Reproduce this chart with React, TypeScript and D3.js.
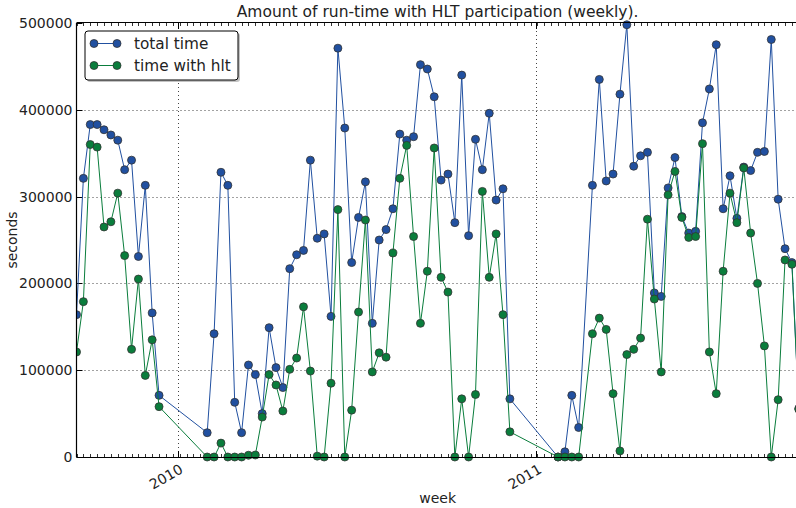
import React from "react";
import * as d3 from "d3";

const startDate = "2009-09-20";
const weekOffsets = [
  0, 1, 2, 3, 4, 5, 6, 7, 8, 9, 10, 11, 12,
  19, 20, 21, 22, 23, 24, 25, 26, 27, 28, 29, 30, 31, 32, 33, 34, 35, 36, 37, 38, 39, 40, 41,
  42, 43, 44, 45, 46, 47, 48, 49, 50, 51, 52, 53, 54, 55, 56, 57, 58, 59, 60, 61, 62, 63,
  70, 71, 72, 73,
  75, 76, 77, 78, 79, 80, 81, 82, 83, 84, 85, 86, 87, 88, 89, 90, 91, 92, 93, 94, 95, 96, 97,
  98, 99, 100, 101, 102, 103, 104, 105,
];
const totalTime = [
  164000, 321000, 383000, 383000, 377000, 371000, 365000, 331000, 342000, 231000, 313000, 166000, 71000,
  28000, 142000, 328000, 313000, 63000, 28000, 106000, 95000, 50000, 149000, 103000, 80000, 217000,
  233000, 238000, 342000, 252000, 257000, 162000, 471000, 379000, 224000, 276000,
  317000, 154000, 250000, 262000, 286000, 372000, 365000, 369000, 452000, 447000, 415000, 319000,
  326000, 270000, 440000, 255000, 366000, 331000, 396000, 296000, 309000, 67000,
  0, 6000, 71000, 34000,
  313000, 435000, 318000, 326000, 418000, 498000, 335000, 347000, 351000, 189000, 185000, 310000,
  345000, 277000, 258000, 260000, 385000, 424000, 475000, 286000, 324000, 275000, 334000,
  330000, 351000, 352000, 481000, 297000, 240000, 224000, 56000,
];
const hltTime = [
  121000, 179000, 360000, 357000, 265000, 271000, 304000, 232000, 124000, 205000, 94000, 135000, 58000,
  0, 0, 16000, 0, 0, 0, 2000, 2300, 46000, 95000, 83000, 53000, 101000,
  114000, 173000, 99000, 1000, 0, 85000, 285000, 0, 54000, 167000,
  273000, 98000, 120000, 115000, 235000, 321000, 359000, 254000, 154000, 214000, 356000, 207000,
  190000, 0, 67000, 0, 72000, 306000, 207000, 257000, 164000, 29000,
  0, 0, 0, 0,
  142000, 160000, 147000, 73000, 7000, 118000, 124000, 137000, 274000, 182000, 98000, 302000,
  329000, 276000, 253000, 254000, 361000, 121000, 73000, 214000, 304000, 270000, 333000,
  258000, 200000, 128000, 0, 66000, 227000, 222000, 55000,
];
const yTicks = [0, 100000, 200000, 300000, 400000, 500000];
const xTickYears = ["2010-01-01", "2011-01-01"];
const seriesNames = ["total time", "time with hlt"];

const W = 796;
const H = 508;
const left = 76.5;
const top = 23;
const bottom = 457;
const lastWeek = 105;
const pxPerWeek = 6.879;
const right = left + lastWeek * pxPerWeek;
const font = "'DejaVu Sans', sans-serif";
const BLUE = "#2150a0";
const GREEN = "#0a7d3c";

export default function App() {
  const parse = d3.timeParse("%Y-%m-%d");
  const start = parse(startDate)!;
  const dates = weekOffsets.map((w) => d3.timeDay.offset(start, 7 * w));
  const x = d3
    .scaleTime()
    .domain([start, d3.timeDay.offset(start, 7 * lastWeek)])
    .range([left, right]);
  const y = d3.scaleLinear().domain([0, 500000]).range([bottom, top]);

  const mk = (vals: number[]) =>
    d3
      .line<number>()
      .x((_, i) => x(dates[i]))
      .y((v) => y(v))(vals) || "";

  const minorTicks = d3.range(0, lastWeek + 1).map((w) => x(d3.timeDay.offset(start, 7 * w)));
  const years = xTickYears.map((s) => parse(s)!);

  const series = [
    { vals: totalTime, color: BLUE, name: seriesNames[0] },
    { vals: hltTime, color: GREEN, name: seriesNames[1] },
  ];

  return (
    <svg
      width={W}
      height={H}
      style={{ position: "absolute", left: 0, top: 0, overflow: "hidden", background: "#fff" }}
    >
      <defs>
        <clipPath id="plot">
          <rect x={left} y={top - 5} width={right - left + 5} height={bottom - top + 10} />
        </clipPath>
      </defs>
      <rect x={0} y={0} width={W} height={H} fill="#fff" />
      {/* grid */}
      {yTicks
        .filter((t) => t > 0 && t < 500000)
        .map((t) => (
          <line
            key={"gy" + t}
            x1={left}
            x2={right}
            y1={Math.round(y(t)) + 0.5}
            y2={Math.round(y(t)) + 0.5}
            stroke="#444"
            strokeWidth={1}
            strokeDasharray="1,3"
          />
        ))}
      {years.map((d, i) => (
        <line
          key={"gx" + i}
          x1={Math.round(x(d)) + 0.5}
          x2={Math.round(x(d)) + 0.5}
          y1={top}
          y2={bottom}
          stroke="#444"
          strokeWidth={1}
          strokeDasharray="1,3"
        />
      ))}
      {/* minor ticks */}
      {minorTicks.map((px, i) => (
        <g key={"mt" + i}>
          <line x1={Math.round(px) + 0.5} x2={Math.round(px) + 0.5} y1={bottom} y2={bottom - 3} stroke="#000" strokeWidth={0.8} />
          <line x1={Math.round(px) + 0.5} x2={Math.round(px) + 0.5} y1={top} y2={top + 3} stroke="#000" strokeWidth={0.8} />
        </g>
      ))}
      {years.map((d, i) => (
        <g key={"yt" + i}>
          <line x1={Math.round(x(d)) + 0.5} x2={Math.round(x(d)) + 0.5} y1={bottom} y2={bottom - 6} stroke="#000" />
          <line x1={Math.round(x(d)) + 0.5} x2={Math.round(x(d)) + 0.5} y1={top} y2={top + 6} stroke="#000" />
          <text
            transform={`translate(${x(d) + 1},${bottom + 6}) rotate(-30)`}
            textAnchor="end"
            dominantBaseline="hanging"
            fontFamily={font}
            fontSize={14}
            fill="#222"
          >
            {d3.timeFormat("%Y")(d)}
          </text>
        </g>
      ))}
      {yTicks.map((t) => (
        <g key={"ty" + t}>
          <line x1={left} x2={left + 6} y1={Math.round(y(t)) + 0.5} y2={Math.round(y(t)) + 0.5} stroke="#000" />
          <text
            x={left - 4}
            y={y(t)}
            textAnchor="end"
            dominantBaseline="central"
            fontFamily={font}
            fontSize={14}
            fill="#222"
          >
            {t}
          </text>
        </g>
      ))}
      {/* data */}
      <g clipPath="url(#plot)">
        {series.map((s, si) => (
          <g key={"s" + si}>
            <path d={mk(s.vals)} fill="none" stroke={s.color} strokeWidth={1} />
            {s.vals.map((v, i) => (
              <circle
                key={i}
                cx={x(dates[i])}
                cy={y(v)}
                r={4}
                fill={s.color}
                stroke="#333"
                strokeWidth={0.8}
              />
            ))}
          </g>
        ))}
      </g>
      {/* spines */}
      <line x1={left} x2={left} y1={top} y2={bottom} stroke="#000" strokeWidth={1.2} />
      <line x1={left} x2={right} y1={bottom + 0.5} y2={bottom + 0.5} stroke="#000" strokeWidth={1.2} />
      <line x1={left} x2={right} y1={top - 0.5} y2={top - 0.5} stroke="#000" strokeWidth={1.2} />
      {/* legend */}
      <g>
        <rect x={87} y={33} width={153} height={49} rx={3} fill="#888" opacity={0.5} />
        <rect x={85} y={31} width={153} height={49} rx={3} fill="#fff" stroke="#000" strokeWidth={1} />
        {series.map((s, i) => {
          const ly = 43.5 + i * 22;
          return (
            <g key={"lg" + i}>
              <line x1={94} x2={117} y1={ly} y2={ly} stroke={s.color} strokeWidth={1} />
              <circle cx={94} cy={ly} r={4} fill={s.color} stroke="#333" strokeWidth={0.8} />
              <circle cx={117} cy={ly} r={4} fill={s.color} stroke="#333" strokeWidth={0.8} />
              <text x={134} y={ly} dominantBaseline="central" fontFamily={font} fontSize={15.3} fill="#222">
                {s.name}
              </text>
            </g>
          );
        })}
      </g>
      {/* titles */}
      <text
        x={(left + right) / 2}
        y={17}
        textAnchor="middle"
        fontFamily={font}
        fontSize={15.5}
        fill="#222"
      >
        Amount of run-time with HLT participation (weekly).
      </text>
      <text x={(left + right) / 2} y={503} textAnchor="middle" fontFamily={font} fontSize={14} fill="#222">
        week
      </text>
      <text
        transform={`translate(17,${(top + bottom) / 2}) rotate(-90)`}
        textAnchor="middle"
        fontFamily={font}
        fontSize={14}
        fill="#222"
      >
        seconds
      </text>
    </svg>
  );
}
